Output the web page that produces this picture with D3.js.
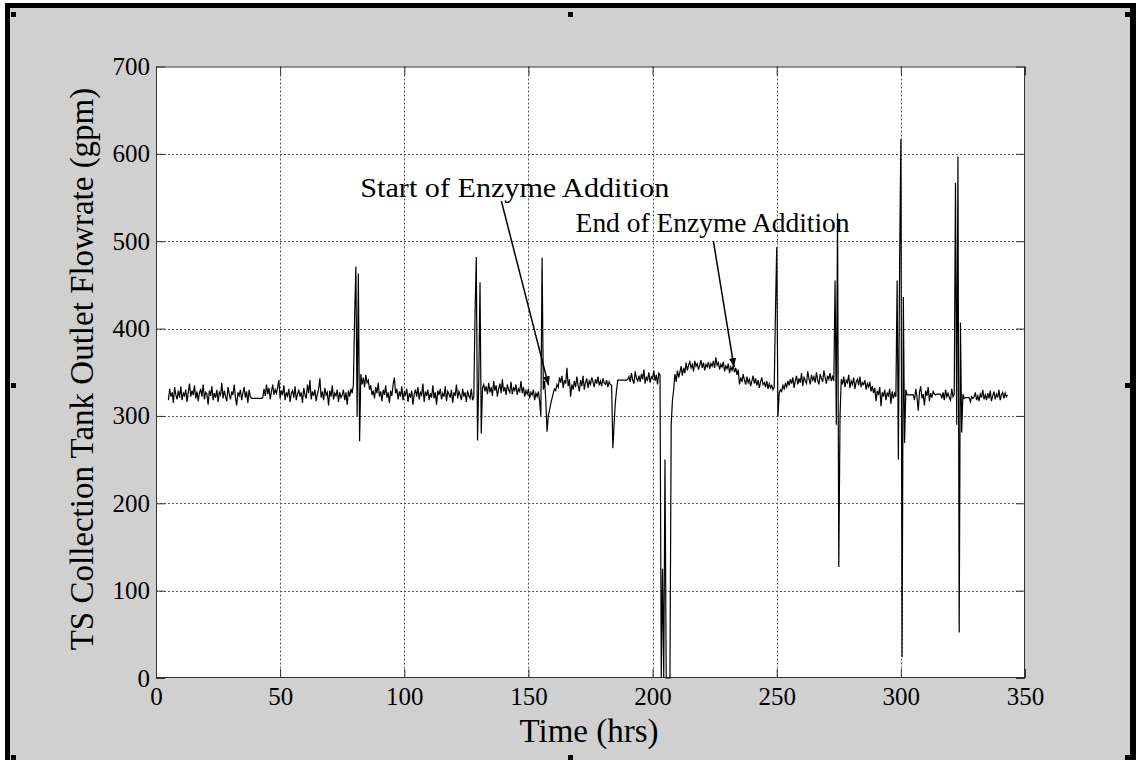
<!DOCTYPE html>
<html>
<head>
<meta charset="utf-8">
<script src="https://cdn.jsdelivr.net/npm/d3@7"></script>
<style>
  html, body { margin: 0; padding: 0; background: #fff; }
  svg { display: block; }
  text { font-family: "Liberation Serif", "Times New Roman", serif; fill: #000; }
</style>
</head>
<body>
<svg id="chart" width="1136" height="760"></svg>
<script>
// Flowrate record: one reading every half hour starting at hour 5.
const startHour = 5;
const stepHours = 0.5;
const flowGpm = [
  // 5 - 14.5 h
  318,331,322,327,315,333,324,319,329,321,334,318,326,323,330,316,327,337,322,329,
  // 15 - 24.5 h
  324,335,320,328,317,326,331,322,336,319,327,325,313,329,323,334,318,326,321,330,
  // 25 - 34.5 h
  316,327,324,338,320,329,322,317,333,325,319,328,324,336,321,312,327,323,330,318,
  // 35 - 44.5 h
  326,333,321,328,315,330,322,320,320,320,320,320,320,320,320,320,321,331,323,336,
  // 45 - 54.5 h
  325,332,319,328,336,324,330,326,333,341,320,329,324,335,318,327,323,331,316,326,
  // 55 - 64.5 h
  329,321,334,318,325,330,322,327,315,332,324,320,336,326,341,319,328,323,330,317,
  // 65 - 74.5 h
  325,331,343,321,328,318,332,324,327,312,329,322,335,319,326,323,330,316,327,321,
  // 75 - 84.5 h
  324,330,318,327,313,329,322,331,326,336,414,471,300,463,271,348,336,344,333,347,
  // 85 - 94.5 h
  338,341,330,335,324,329,320,333,326,338,322,328,317,330,324,335,321,327,315,329,
  // 95 - 104.5 h
  323,336,344,326,331,319,328,322,334,318,327,324,331,316,326,321,329,313,325,330,
  // 105 - 114.5 h
  322,333,319,327,324,337,316,328,323,330,318,326,321,335,320,327,313,329,324,331,
  // 115 - 124.5 h
  319,326,322,334,317,328,325,321,330,315,327,323,336,320,328,324,318,331,322,327,
  // 125 - 134.5 h
  316,329,323,320,331,318,322,416,482,272,340,453,280,332,336,328,334,325,338,327,
  // 135 - 144.5 h
  333,323,340,329,335,322,331,337,326,342,328,333,324,336,330,327,339,325,332,329,
  // 145 - 154.5 h
  336,324,331,328,340,326,333,322,329,325,331,320,327,324,330,318,326,322,328,317,
  // 155 - 164.5 h
  300,481,330,340,318,282,300,307,314,320,326,331,329,336,333,344,338,346,332,341,
  // 165 - 174.5 h
  337,355,334,342,322,336,330,340,333,345,335,328,341,334,346,330,338,343,332,340,
  // 175 - 184.5 h
  336,344,339,333,342,337,345,335,340,334,343,338,336,341,333,339,336,335,263,290,
  // 185 - 194.5 h
  315,330,341,341,341,341,341,341,341,341,342,345,339,349,341,337,351,343,340,346,
  // 195 - 204.5 h
  339,348,342,353,337,344,341,350,338,345,343,352,340,347,336,349,347,0,125,0,
  // 205 - 214.5 h
  250,0,0,0,0,290,318,330,348,339,352,344,350,357,346,355,349,361,352,358,
  // 215 - 224.5 h
  362,355,359,351,363,357,360,353,358,364,355,361,352,359,356,362,354,360,357,363,
  // 225 - 234.5 h
  355,367,358,361,353,359,356,362,351,357,354,360,349,356,352,358,350,355,347,353,
  // 235 - 244.5 h
  336,344,339,348,341,336,345,338,342,334,340,346,337,343,335,341,332,339,344,336,
  // 245 - 254.5 h
  338,333,340,331,337,332,335,330,333,420,493,299,326,330,328,335,331,337,333,340,
  // 255 - 264.5 h
  335,342,337,344,332,340,346,336,343,338,349,334,345,340,337,351,342,336,347,341,
  // 265 - 274.5 h
  345,338,350,341,336,348,343,339,352,344,337,346,342,349,340,345,340,455,290,532,
  // 275 - 284.5 h
  127,300,342,336,345,333,341,338,347,332,340,336,344,331,339,342,335,345,333,338,
  // 285 - 294.5 h
  336,341,330,337,333,339,328,334,326,332,317,329,324,333,311,327,322,330,318,326,
  // 295 - 304.5 h
  323,331,314,328,320,326,322,455,250,476,617,24,436,269,330,324,324,324,324,324,
  // 305 - 314.5 h
  324,318,331,322,306,327,334,320,325,312,329,323,333,317,326,321,328,325,324,325,
  // 315 - 324.5 h
  325,325,325,320,327,318,330,322,326,321,318,331,322,325,567,290,597,52,407,281,
  // 325 - 334.5 h
  325,320,321,321,321,321,316,322,320,322,327,318,323,317,325,321,330,319,324,318,
  // 335 - 343 h
  326,320,329,317,323,328,319,325,321,330,318,324,327,320,326,322,324
];

const xTicks = [0, 50, 100, 150, 200, 250, 300, 350];
const yTicks = [0, 100, 200, 300, 400, 500, 600, 700];

// Annotations: label anchor and arrow tail/tip, all in (hours, gpm).
const notes = [
  { label: "Start of Enzyme Addition", at: [82.3, 551], tail: [139.1, 546], tip: [158.1, 335] },
  { label: "End of Enzyme Addition",   at: [169.0, 510], tail: [224.5, 500], tip: [232.8, 356] }
];

const W = 1136, H = 760;
const plot = { left: 156, top: 66.5, right: 1025, bottom: 678 };

const svg = d3.select("#chart");

// Window frame
svg.append("rect").attr("x", 5).attr("y", 3).attr("width", W - 5).attr("height", H - 3).attr("fill", "#000");
svg.append("rect").attr("x", 10).attr("y", 8).attr("width", W - 16).attr("height", H - 8).attr("fill", "#d0d0d0");

// Selection handles
const handles = [[11, 12], [568, 12], [1125, 12], [11, 383], [1125, 383], [11, 755], [568, 755], [1125, 755]];
svg.selectAll("rect.handle").data(handles).enter().append("rect")
  .attr("class", "handle")
  .attr("x", d => d[0]).attr("y", d => d[1])
  .attr("width", 5).attr("height", 5).attr("fill", "#000");

const x = d3.scaleLinear().domain([0, 350]).range([plot.left, plot.right]);
const y = d3.scaleLinear().domain([0, 700]).range([plot.bottom, plot.top]);

const pw = plot.right - plot.left, ph = plot.bottom - plot.top;

// Plot background
svg.append("rect").attr("x", plot.left).attr("y", plot.top)
  .attr("width", pw).attr("height", ph).attr("fill", "#fff");

// Dotted grid
const grid = svg.append("g").attr("stroke", "#555").attr("stroke-width", 1).attr("stroke-dasharray", "2,2");
grid.selectAll("line.gx").data(xTicks.slice(1, -1)).enter().append("line")
  .attr("x1", d => Math.round(x(d)) + 0.5).attr("x2", d => Math.round(x(d)) + 0.5)
  .attr("y1", plot.top).attr("y2", plot.bottom);
grid.selectAll("line.gy").data(yTicks.slice(1, -1)).enter().append("line")
  .attr("y1", d => Math.round(y(d)) + 0.5).attr("y2", d => Math.round(y(d)) + 0.5)
  .attr("x1", plot.left).attr("x2", plot.right);

// Axes: ticks point inward, on all four sides
const tickLen = 9;
const axisStyle = g => {
  g.select(".domain").remove();
  g.selectAll(".tick line").attr("stroke", "#333");
  g.selectAll(".tick text").style("font-size", "25px").attr("fill", "#000").attr("font-family", null);
};
svg.append("g").attr("transform", `translate(0,${plot.bottom})`)
  .call(d3.axisBottom(x).tickValues(xTicks).tickSizeInner(-tickLen).tickSizeOuter(0).tickPadding(22))
  .call(axisStyle)
  .call(g => g.selectAll(".tick text").attr("dy", "0.2em"));
svg.append("g").attr("transform", `translate(0,${plot.top})`)
  .call(d3.axisTop(x).tickValues(xTicks).tickSizeInner(-tickLen).tickSizeOuter(0).tickFormat(""))
  .call(axisStyle);
svg.append("g").attr("transform", `translate(${plot.left},0)`)
  .call(d3.axisLeft(y).tickValues(yTicks).tickSizeInner(-tickLen).tickSizeOuter(0).tickPadding(6))
  .call(axisStyle);
svg.append("g").attr("transform", `translate(${plot.right},0)`)
  .call(d3.axisRight(y).tickValues(yTicks).tickSizeInner(-tickLen).tickSizeOuter(0).tickFormat(""))
  .call(axisStyle);

// Plot box
svg.append("rect").attr("x", plot.left + 0.5).attr("y", plot.top + 0.5)
  .attr("width", pw - 1).attr("height", ph - 1)
  .attr("fill", "none").attr("stroke", "#333").attr("stroke-width", 1);

// Flowrate trace
const series = flowGpm.map((v, i) => [startHour + i * stepHours, v]);
svg.append("path")
  .datum(series)
  .attr("fill", "none")
  .attr("stroke", "#000")
  .attr("stroke-width", 1.2)
  .attr("stroke-linejoin", "miter")
  .attr("d", d3.line().x(d => x(d[0])).y(d => y(d[1])));

// Annotation arrows
const defs = svg.append("defs");
defs.append("marker").attr("id", "head")
  .attr("viewBox", "0 0 10 10").attr("refX", 10).attr("refY", 5)
  .attr("markerWidth", 9).attr("markerHeight", 9).attr("markerUnits", "userSpaceOnUse")
  .attr("orient", "auto")
  .append("path").attr("d", "M0,1 L10,5 L0,9 Z").attr("fill", "#000");

const ann = svg.append("g");
ann.selectAll("line").data(notes).enter().append("line")
  .attr("x1", d => x(d.tail[0])).attr("y1", d => y(d.tail[1]))
  .attr("x2", d => x(d.tip[0])).attr("y2", d => y(d.tip[1]))
  .attr("stroke", "#000").attr("stroke-width", 1.5)
  .attr("marker-end", "url(#head)");

// Label widths follow the set width of the serif face used for the labels
const labelSpan = { "Start of Enzyme Addition": 309, "End of Enzyme Addition": 274 };
ann.selectAll("text").data(notes).enter().append("text")
  .attr("x", d => x(d.at[0])).attr("y", d => y(d.at[1]))
  .attr("textLength", d => labelSpan[d.label])
  .attr("lengthAdjust", "spacingAndGlyphs")
  .style("font-size", "27px")
  .text(d => d.label);

// Axis titles
svg.append("text")
  .attr("x", 589).attr("y", 742)
  .attr("text-anchor", "middle")
  .style("font-size", "33px")
  .text("Time (hrs)");
svg.append("text")
  .attr("transform", "translate(93,369) rotate(-90)")
  .attr("text-anchor", "middle")
  .style("font-size", "33px")
  .text("TS Collection Tank Outlet Flowrate (gpm)");
</script>
</body>
</html>
